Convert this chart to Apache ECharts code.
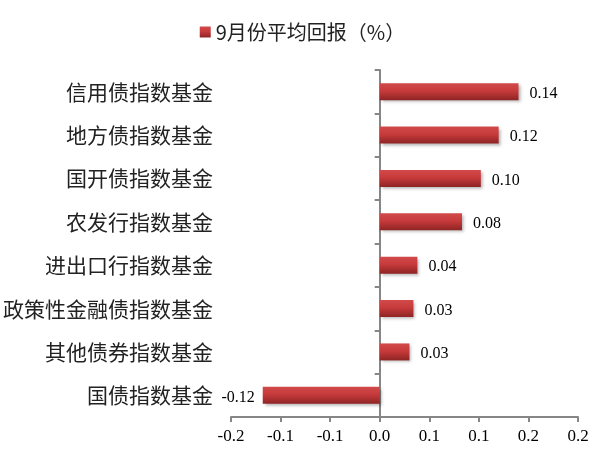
<!DOCTYPE html>
<html><head><meta charset="utf-8">
<script src="https://cdn.jsdelivr.net/npm/echarts@6/dist/echarts.min.js"></script>
<style>html,body{margin:0;padding:0;background:#fff}#c{width:605px;height:464px}</style>
</head><body><div id="c"></div>
<script>
var categories = ['信用债指数基金','地方债指数基金','国开债指数基金','农发行指数基金','进出口行指数基金','政策性金融债指数基金','其他债券指数基金','国债指数基金'];
var values = [0.140, 0.120, 0.102, 0.083, 0.038, 0.034, 0.030, -0.118];
var seriesName = '9月份平均回报（%）';
var tickLabels = ['-0.2','-0.1','-0.1','0.0','0.1','0.1','0.2','0.2'];
var axisMin = -0.15, axisMax = 0.2, axisStep = 0.05;

var chart = echarts.init(document.getElementById('c'));
var barGrad = new echarts.graphic.LinearGradient(0,0,0,1,[
  {offset:0,color:'#d24a4a'},{offset:0.45,color:'#c73a3b'},{offset:1,color:'#8e2424'}]);
var data = values.map(function(v){
  return v<0 ? {value:v,label:{position:'left',distance:8}} : {value:v};
});
chart.setOption({
  animation:false,
  legend:{top:17,left:'center',itemWidth:11,itemHeight:11,itemGap:6,
    textStyle:{fontSize:20,color:'#222',fontFamily:'Noto Sans CJK SC'},
    data:[{name:seriesName,icon:'rect'}]},
  grid:{left:231,right:27,top:70,bottom:47,containLabel:false},
  xAxis:{type:'value',min:axisMin,max:axisMax,interval:axisStep,
    splitLine:{show:false},
    axisLine:{show:true,lineStyle:{color:'#868686',width:2}},
    axisTick:{show:true,length:5,lineStyle:{color:'#868686',width:2}},
    axisLabel:{margin:11,fontSize:17,color:'#000',fontFamily:'Liberation Serif',
      formatter:function(v){return tickLabels[Math.round((v-axisMin)/axisStep)];}}},
  yAxis:[{type:'category',data:categories,inverse:true,
    axisLine:{show:true,onZero:true,lineStyle:{color:'#868686',width:2}},
    axisTick:{show:true,length:5,lineStyle:{color:'#868686',width:2}},
    axisLabel:{show:false}},
   {type:'category',data:categories,inverse:true,position:'left',
    axisLine:{show:false,onZero:false},axisTick:{show:false},
    axisLabel:{show:true,margin:18,fontSize:21,color:'#222',fontFamily:'Noto Sans CJK SC'}}],
  series:[{name:seriesName,type:'bar',yAxisIndex:0,data:data,barWidth:17,
    itemStyle:{color:barGrad,shadowBlur:3,shadowOffsetX:2,shadowOffsetY:2,shadowColor:'rgba(0,0,0,0.3)'},
    label:{show:true,fontSize:16,color:'#000',fontFamily:'Liberation Serif',distance:11,offset:[0,2],
      position:'right',formatter:function(p){return p.value.toFixed(2);}}}]
});
</script></body></html>
